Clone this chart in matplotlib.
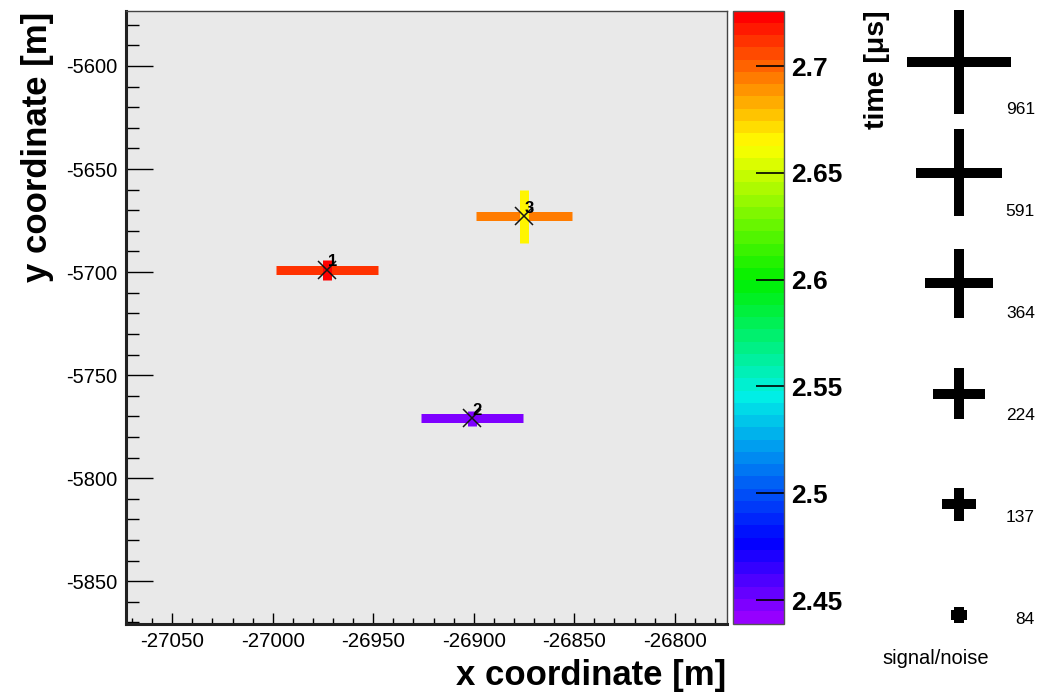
import numpy as np
import matplotlib
matplotlib.use("Agg")
import matplotlib.pyplot as plt
from matplotlib.colors import LinearSegmentedColormap, BoundaryNorm
from matplotlib.cm import ScalarMappable
from matplotlib.ticker import MultipleLocator, FormatStrFormatter

plt.rcParams['font.family'] = ['Liberation Sans', 'DejaVu Sans']
plt.rcParams['axes.unicode_minus'] = False

# ---------------- data ----------------
point_ids = ["1", "2", "3"]
x_m = [-26973, -26901, -26875]          # x coordinate [m]
y_m = [-5699, -5771, -5673]             # y coordinate [m]
sn_x = [917, 917, 776]                  # signal/noise, horizontal polarisation
sn_y = [96, 80, 235]                    # signal/noise, vertical polarisation
time_x = [2.714, 2.446, 2.692]          # time [us], horizontal
time_y = [2.724, 2.446, 2.664]          # time [us], vertical

legend_sn = [961, 591, 364, 224, 137, 84]
legend_labels = ["961", "591", "364", "224", "137", "84"]

x_lim = (-27073, -26774)
y_lim = (-5870.5, -5573.2)
t_lim = (2.439, 2.726)
cbar_ticks = [2.45, 2.5, 2.55, 2.6, 2.65, 2.7]

# ---------------- style ----------------
W, H = 1037, 693
fig = plt.figure(figsize=(W / 100, H / 100), dpi=100)
fig.patch.set_facecolor('white')

def fx(px):
    return px / W

def fy(py):
    return 1 - py / H

anchors = [(2.439, (150, 0, 255)), (2.475, (0, 0, 255)), (2.545, (0, 240, 230)),
           (2.600, (0, 240, 0)), (2.665, (255, 255, 0)), (2.700, (255, 110, 0)),
           (2.726, (255, 0, 0))]
cm_pts = [((t - t_lim[0]) / (t_lim[1] - t_lim[0]), tuple(c / 255 for c in col)) for t, col in anchors]
cmap = LinearSegmentedColormap.from_list('rootpal', cm_pts, N=50)
bounds = np.linspace(t_lim[0], t_lim[1], 51)
norm = BoundaryNorm(bounds, cmap.N)

ax = fig.add_axes([fx(126), fy(623.5), fx(727) - fx(126), fy(10.7) - fy(623.5)])
ax.set_facecolor('#e9e9e9')
ax.set_xlim(*x_lim)
ax.set_ylim(*y_lim)

ppm_x = (fx(727) - fx(126)) * W / (x_lim[1] - x_lim[0])
ppm_y = (fy(10.7) - fy(623.5)) * H / (y_lim[1] - y_lim[0])

def cross_px(sn):
    return 16 + 36 * np.log(sn / 84.0)

bar_lw = 9 * 72 / 100
for i in range(len(x_m)):
    hx = cross_px(sn_x[i]) / 2 / ppm_x
    hy = cross_px(sn_y[i]) / 2 / ppm_y
    ax.plot([x_m[i] - hx, x_m[i] + hx], [y_m[i], y_m[i]], color=cmap(norm(time_x[i])),
            lw=bar_lw, solid_capstyle='butt', zorder=2)
    ax.plot([x_m[i], x_m[i]], [y_m[i] - hy, y_m[i] + hy], color=cmap(norm(time_y[i])),
            lw=bar_lw, solid_capstyle='butt', zorder=3)
ax.plot(x_m, y_m, linestyle='none', marker='x', markersize=13, mew=1.1, color='#151515', zorder=4)
for i, lab in enumerate(point_ids):
    ax.annotate(lab, (x_m[i], y_m[i]), xytext=(0.5, 0.5), textcoords='offset points',
                ha='left', va='bottom', fontsize=12, fontweight='bold', color='black', zorder=5)

ax.xaxis.set_major_locator(MultipleLocator(50))
ax.xaxis.set_minor_locator(MultipleLocator(10))
ax.yaxis.set_major_locator(MultipleLocator(50))
ax.yaxis.set_minor_locator(MultipleLocator(10))
ax.xaxis.set_major_formatter(FormatStrFormatter('%d'))
ax.yaxis.set_major_formatter(FormatStrFormatter('%d'))
ax.tick_params(axis='x', which='major', direction='in', length=8, width=1, pad=6,
               labelsize=14.8, top=False)
ax.tick_params(axis='x', which='minor', direction='in', length=4.3, width=1, top=False)
ax.tick_params(axis='y', which='major', direction='in', length=19.4, width=1, pad=6,
               labelsize=14.5, right=False)
ax.tick_params(axis='y', which='minor', direction='in', length=9.5, width=1, right=False)
for s in ['left', 'bottom']:
    ax.spines[s].set_linewidth(2.2)
    ax.spines[s].set_color('#222')
for s in ['top', 'right']:
    ax.spines[s].set_linewidth(1.0)
    ax.spines[s].set_color('#444')

fig.text(fx(726), fy(685), 'x coordinate [m]', ha='right', va='baseline',
         fontsize=25, fontweight='bold')
fig.text(fx(47), fy(12), 'y coordinate [m]', rotation=90, rotation_mode='anchor',
         ha='right', va='baseline', fontsize=25, fontweight='bold')

# colorbar
cax = fig.add_axes([fx(733), fy(623.5), fx(784) - fx(733), fy(10.7) - fy(623.5)])
sm = ScalarMappable(norm=norm, cmap=cmap)
cb = fig.colorbar(sm, cax=cax, boundaries=bounds, ticks=cbar_ticks)
cb.outline.set_linewidth(1.0)
cb.outline.set_edgecolor('#555')
cax.yaxis.set_ticks_position('right')
cax.yaxis.set_major_formatter(FormatStrFormatter('%g'))
cax.tick_params(axis='y', which='major', direction='in', length=20, width=1.2,
                pad=5, labelsize=19, colors='black')
cax.minorticks_off()
for lab in cax.get_yticklabels():
    lab.set_fontweight('bold')

fig.text(fx(884), fy(10), 'time [μs]', rotation=90, rotation_mode='anchor',
         ha='right', va='baseline', fontsize=20.5, fontweight='bold')

# signal/noise legend
lax = fig.add_axes([fx(850), 0, 1 - fx(850), 1])
lax.set_xlim(850, W)
lax.set_ylim(H, 0)
lax.axis('off')
centers_y = np.linspace(62, 615, len(legend_sn))
leg_lw = 10 * 72 / 100
for cy, sn, lab in zip(centers_y, legend_sn, legend_labels):
    s = cross_px(sn)
    lax.plot([959 - s / 2, 959 + s / 2], [cy, cy], color='black', lw=leg_lw,
             solid_capstyle='butt', clip_on=False)
    lax.plot([959, 959], [cy - s / 2, cy + s / 2], color='black', lw=leg_lw,
             solid_capstyle='butt', clip_on=False)
    lax.text(1035, cy + s / 2 - 4, lab, ha='right', va='center', fontsize=12.5, clip_on=False)
lax.text(936, 658, 'signal/noise', ha='center', va='center', fontsize=14.5)

fig.savefig('out.png', dpi=100)
